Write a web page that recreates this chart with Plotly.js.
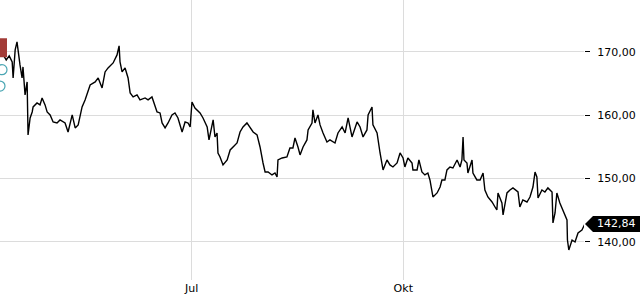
<!DOCTYPE html>
<html>
<head>
<meta charset="utf-8">
<script src="https://cdn.plot.ly/plotly-3.0.1.min.js"></script>
<style>html,body{margin:0;padding:0;background:#fff;}#chart{width:640px;height:300px;}</style>
</head>
<body>
<div id="chart"></div>
<script>
// days relative to 1 July
const days = [-83.4,-82.0,-80.7,-79.4,-78.1,-77.7,-76.8,-76.0,-74.7,-73.8,-73.4,-72.5,-71.6,-71.2,-70.3,-69.4,-69.0,-67.3,-66.0,-65.1,
-63.8,-62.9,-61.6,-60.3,-58.6,-57.3,-55.1,-53.8,-52.0,-50.7,-49.4,-47.7,-46.4,-45.1,-44.2,-42.0,-40.7,-39.0,-37.7,-36.4,
-34.2,-32.5,-31.6,-31.2,-30.3,-29.0,-27.7,-26.8,-25.5,-23.8,-22.5,-20.3,-19.0,-17.3,-16.0,-15.1,-13.8,-12.9,-11.6,-10.3,
-8.6,-7.3,-6.0,-4.2,-2.9,-1.6,-0.7,0.1,1.4,3.6,4.9,6.7,7.5,8.8,9.3,10.1,11.0,11.4,12.3,13.6,
15.4,16.7,18.0,19.7,21.0,22.3,24.0,25.4,26.7,28.4,29.7,31.0,31.9,33.2,34.9,36.2,37.1,37.5,39.3,41.4,
42.7,44.0,44.9,46.2,47.1,48.4,50.1,50.6,52.3,52.7,53.6,54.9,55.8,57.1,58.8,60.1,62.3,63.6,65.4,66.7,
68.0,69.7,71.9,73.2,74.5,76.2,76.7,78.4,78.8,80.6,81.0,81.9,83.2,84.9,86.2,87.5,89.3,90.6,91.9,92.7,
94.0,95.8,96.2,98.0,98.8,100.1,101.4,102.7,103.6,104.5,104.9,106.7,108.0,108.8,110.1,111.0,112.3,113.6,115.4,116.7,
117.5,118.0,118.4,119.7,120.1,121.9,122.3,124.0,125.4,126.7,127.5,128.8,130.6,131.9,132.7,133.2,134.9,135.4,137.1,138.4,
139.7,141.9,142.7,144.0,145.8,147.1,148.4,149.3,150.1,150.6,152.3,153.6,154.9,156.7,157.1,158.0,158.8,160.1,161.4,163.2,
163.4,164.0,165.4,166.7,168.0,169.7,171.0];
const prices = [169.37,169.53,168.74,169.37,168.42,165.89,170.32,171.58,167.95,165.89,167.63,163.21,165.26,156.89,159.57,160.52,161.31,161.94,161.63,162.73,
161.63,160.52,160.05,158.94,158.78,159.26,158.78,157.36,160.05,158.00,158.47,161.31,162.42,163.68,164.79,165.26,165.89,164.31,166.84,167.47,
168.26,169.53,170.95,168.42,166.84,167.47,165.89,163.52,162.89,163.21,162.42,162.73,162.42,162.89,161.63,160.52,160.36,158.78,158.00,158.78,
160.05,160.36,159.57,157.36,158.94,158.78,158.15,162.10,161.15,160.36,159.57,158.15,156.10,158.78,159.26,156.57,157.20,154.04,153.41,152.15,
152.94,154.52,154.99,155.62,157.36,158.15,158.78,158.00,157.36,156.89,154.99,152.46,151.04,151.04,150.57,150.88,150.25,152.94,153.25,153.41,
154.83,154.83,156.41,154.99,153.73,154.99,156.10,157.68,158.78,160.84,158.78,160.05,158.47,157.20,155.78,156.10,155.62,157.20,158.15,157.20,
159.57,156.57,158.94,158.15,156.57,157.68,160.05,161.31,158.47,157.20,156.41,154.04,151.36,152.94,152.15,151.83,152.46,154.04,153.25,151.83,
153.25,152.46,151.36,151.36,152.94,151.04,150.57,150.88,149.78,148.20,147.09,147.73,148.67,149.78,149.78,151.36,151.83,151.67,152.94,151.83,
152.94,156.57,152.94,152.46,150.88,152.94,150.88,149.78,149.78,150.88,148.20,147.09,146.30,145.51,145.04,147.73,146.15,144.25,147.73,148.20,
148.52,147.88,145.51,146.62,146.30,147.09,148.67,151.04,150.25,146.94,148.20,147.88,148.52,147.88,142.99,144.57,147.73,146.15,145.04,143.46,
140.30,138.72,140.30,139.98,141.41,141.88,142.84];
const tickDays = [0, 92];
const tickLabels = ['Jul', 'Okt'];
const yTicks = [140, 150, 160, 170];
const lastPrice = 142.84;
const lastLabel = '142,84';

const PW = 584; // plot width px
const PPU = 6.33; // px per price unit
const px = v => v / PW;

const layout = {
  width: 640, height: 300,
  margin: {l: 0, r: 56, t: 0, b: 20, pad: 0},
  paper_bgcolor: '#fff', plot_bgcolor: '#fff',
  showlegend: false,
  separators: ',.',
  font: {family: 'DejaVu Sans', size: 11, color: '#000'},
  xaxis: {
    range: [-83.4, 170.6],
    tickvals: tickDays, ticktext: tickLabels,
    showgrid: true, gridcolor: '#dcdcdc', gridwidth: 1,
    zeroline: false, showline: false, ticks: '',
    tickfont: {family: 'DejaVu Sans', size: 11, color: '#000'},
    fixedrange: true
  },
  yaxis: {
    side: 'right',
    range: [133.98, 178.2],
    tickvals: yTicks, tickformat: '.2f',
    showgrid: true, gridcolor: '#dcdcdc', gridwidth: 1,
    zeroline: false, showline: false,
    ticks: 'outside', ticklen: 5, tickcolor: '#000', tickwidth: 1,
    ticklabelstandoff: 5,
    tickfont: {family: 'DejaVu Sans', size: 11, color: '#000'},
    fixedrange: true
  },
  shapes: [
    {type: 'rect', xref: 'paper', yref: 'y', x0: 0, x1: px(7), y0: 169.16, y1: 172.16,
     fillcolor: '#a23b37', line: {width: 0}, layer: 'above'},
    {type: 'circle', xref: 'paper', yref: 'y', x0: px(-3), x1: px(7), y0: 167.2 - 0.8, y1: 167.2 + 0.8,
     line: {color: '#4aa6b3', width: 1.2}, fillcolor: 'rgba(0,0,0,0)'},
    {type: 'circle', xref: 'paper', yref: 'y', x0: px(-5), x1: px(5), y0: 164.6 - 0.8, y1: 164.6 + 0.8,
     line: {color: '#4aa6b3', width: 1.2}, fillcolor: 'rgba(0,0,0,0)'},
    {type: 'path', xref: 'paper', yref: 'y',
     path: 'M ' + px(585) + ',' + lastPrice + ' L ' + px(593) + ',' + (lastPrice + 8 / PPU) +
           ' L ' + px(640) + ',' + (lastPrice + 8 / PPU) + ' L ' + px(640) + ',' + (lastPrice - 8 / PPU) +
           ' L ' + px(593) + ',' + (lastPrice - 8 / PPU) + ' Z',
     fillcolor: '#000', line: {width: 0}, layer: 'above'}
  ],
  annotations: [
    {xref: 'paper', yref: 'y', x: px(616), y: lastPrice, text: lastLabel, showarrow: false,
     xanchor: 'center', yanchor: 'middle', font: {family: 'DejaVu Sans', size: 11, color: '#fff'}}
  ]
};

const trace = {
  x: days, y: prices, type: 'scatter', mode: 'lines',
  line: {color: '#000', width: 1.4}, hoverinfo: 'none', cliponaxis: true
};

Plotly.newPlot('chart', [trace], layout, {staticPlot: true, displayModeBar: false});
</script>
</body>
</html>
